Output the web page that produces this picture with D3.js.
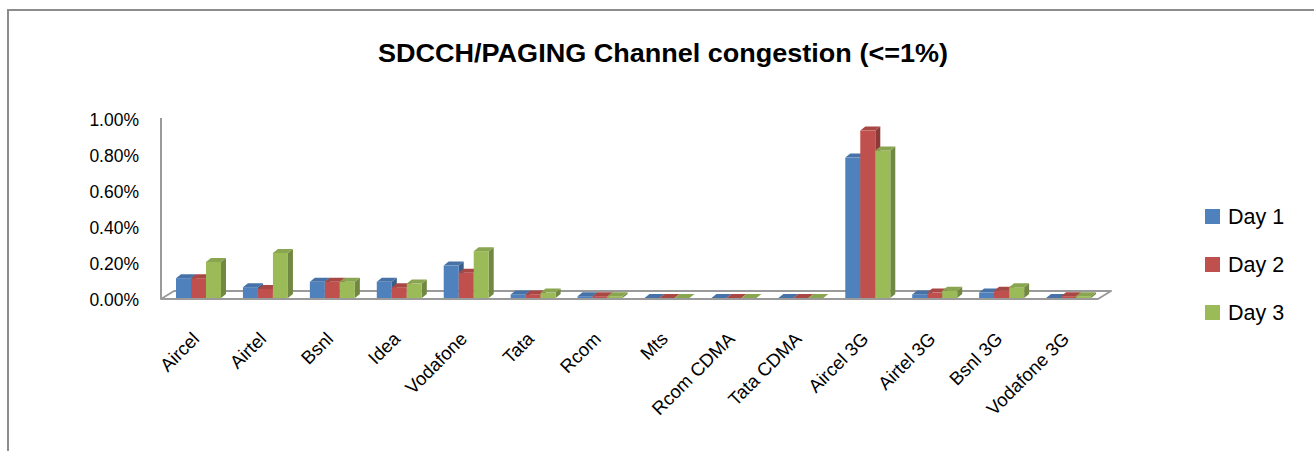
<!DOCTYPE html>
<html>
<head>
<meta charset="utf-8">
<script src="https://cdn.jsdelivr.net/npm/d3@7"></script>
<style>
  body { margin: 0; background: #fff; }
  text { font-family: "Liberation Sans", Arial, sans-serif; fill: #000; }
</style>
</head>
<body>
<script>
// chart data
var categories = ["Aircel", "Airtel", "Bsnl", "Idea", "Vodafone", "Tata", "Rcom", "Mts",
  "Rcom CDMA", "Tata CDMA", "Aircel 3G", "Airtel 3G", "Bsnl 3G", "Vodafone 3G"];
var seriesNames = ["Day 1", "Day 2", "Day 3"];
var day1 = [0.0011, 0.0006, 0.0009, 0.0009, 0.0018, 0.0002, 0.0001, 0, 0, 0, 0.0078, 0.0002, 0.0003, 0];
var day2 = [0.0011, 0.0005, 0.0009, 0.0006, 0.0014, 0.0002, 0.0001, 0, 0, 0, 0.0093, 0.0003, 0.0004, 0.0001];
var day3 = [0.0020, 0.0025, 0.0009, 0.0008, 0.0026, 0.0003, 0.0001, 0, 0, 0, 0.0082, 0.0004, 0.0006, 0.0001];
var yTicks = [0, 0.002, 0.004, 0.006, 0.008, 0.010];
var colors = ["#4F81BD", "#C0504D", "#9BBB59"];

var svgWidth = 1314;
var svgHeight = 451;

var svg = d3.select("body")
  .append("svg")
  .attr("width", svgWidth)
  .attr("height", svgHeight);

// outer chart frame (only top and left edges visible)
svg.append("path")
  .attr("d", "M8,451 L8,10 L1314,10")
  .attr("fill", "none")
  .attr("stroke", "#8c8c8c")
  .attr("stroke-width", 2);

// title
svg.append("text")
  .attr("x", 663)
  .attr("y", 62)
  .attr("text-anchor", "middle")
  .style("font-size", "26px")
  .style("font-weight", "bold")
  .attr("textLength", 570)
  .attr("lengthAdjust", "spacingAndGlyphs")
  .text("SDCCH/PAGING Channel congestion (<=1%)");

var x = d3.scaleBand().domain(categories).range([161, 1098]);
var xSub = d3.scaleBand().domain(seriesNames).range([15, 60]);
var y = d3.scaleLinear().domain([0, 0.01]).range([298, 118]);

var depth = {dx: 13, dy: -8};   // floor depth
var bd = {dx: 5, dy: -4};       // bar depth

// floor and wall
var floorY = 299;
var fx0 = 161, fx1 = 1098;
svg.append("path")
  .attr("d", `M${fx0},${floorY} L${fx1},${floorY} L${fx1 + depth.dx},${floorY + depth.dy} L${fx0 + depth.dx},${floorY + depth.dy} Z`)
  .attr("fill", "#fff")
  .attr("stroke", "#9a9a9a")
  .attr("stroke-width", 2)
  .attr("stroke-linejoin", "round");
svg.append("line")
  .attr("x1", fx0).attr("x2", fx0)
  .attr("y1", floorY).attr("y2", y(0.01))
  .attr("stroke", "#9a9a9a")
  .attr("stroke-width", 2);

// y axis labels
var yAxis = d3.axisLeft(y)
  .tickValues(yTicks)
  .tickSize(0)
  .tickPadding(0)
  .tickFormat(d => (d * 100).toFixed(2) + "%");
var yAxisG = svg.append("g")
  .attr("transform", "translate(139, 2)")
  .call(yAxis);
yAxisG.select(".domain").remove();
yAxisG.selectAll("text")
  .style("font-size", "17.5px")
  .style("font-family", "'Liberation Sans', Arial, sans-serif")
  .attr("fill", "#000");

// bars
var rows = [];
categories.forEach(function(c, i) {
  [day1, day2, day3].forEach(function(arr, s) {
    rows.push({cat: c, s: s, name: seriesNames[s], value: arr[i]});
  });
});

var bars = svg.selectAll(".bar")
  .data(rows)
  .enter()
  .append("g")
  .attr("class", "bar");

bars.each(function(d) {
  var g = d3.select(this);
  var x0 = x(d.cat) + xSub(d.name);
  var w = xSub.bandwidth();
  var yb = y(0);
  var yt = y(d.value);
  var base = d3.color(colors[d.s]);
  // side face
  g.append("path")
    .attr("d", `M${x0 + w},${yt} L${x0 + w + bd.dx},${yt + bd.dy} L${x0 + w + bd.dx},${yb + bd.dy} L${x0 + w},${yb} Z`)
    .attr("fill", base.darker(0.9));
  // front face
  g.append("rect")
    .attr("x", x0)
    .attr("y", yt)
    .attr("width", w)
    .attr("height", Math.max(0, yb - yt))
    .attr("fill", base);
  // top face
  g.append("path")
    .attr("d", `M${x0},${yt} L${x0 + w},${yt} L${x0 + w + bd.dx},${yt + bd.dy} L${x0 + bd.dx},${yt + bd.dy} Z`)
    .attr("fill", base.darker(0.35));
});

// x labels
svg.selectAll(".xlabel")
  .data(categories)
  .enter()
  .append("text")
  .attr("class", "xlabel")
  .attr("text-anchor", "end")
  .attr("transform", d => `translate(${x(d) + x.bandwidth() / 2 + 6}, 340) rotate(-45)`)
  .style("font-size", "18.5px")
  .text(d => d);

// legend
var legend = svg.selectAll(".legend")
  .data(seriesNames)
  .enter()
  .append("g")
  .attr("class", "legend")
  .attr("transform", (d, i) => `translate(1205, ${209 + i * 48})`);
legend.append("rect")
  .attr("width", 15)
  .attr("height", 15)
  .attr("fill", (d, i) => colors[i]);
legend.append("text")
  .attr("x", 23)
  .attr("y", 15)
  .style("font-size", "21.5px")
  .text(d => d);
</script>
</body>
</html>
